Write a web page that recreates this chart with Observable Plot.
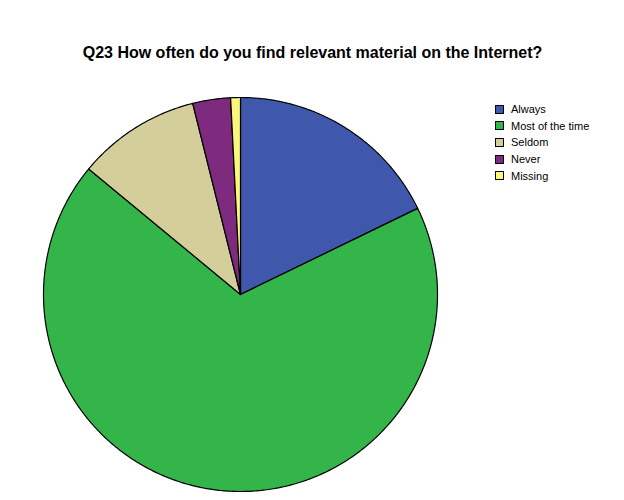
<!DOCTYPE html>
<html>
<head>
<meta charset="utf-8">
<script src="https://cdn.jsdelivr.net/npm/d3@7"></script>
<script src="https://cdn.jsdelivr.net/npm/@observablehq/plot@0.6"></script>
<style>
  body { margin: 0; background: #fff; font-family: "Liberation Sans", Arial, sans-serif; }
  #wrap { position: relative; width: 624px; height: 500px; }
  #legend { position: absolute; left: 495px; top: 101px; font-size: 11px; color: #000; }
  .row { display: flex; align-items: center; height: 16.6px; }
  .sw { width: 7px; height: 7px; border: 1px solid #000; margin-right: 7px; }
</style>
</head>
<body>
<div id="wrap"></div>
<script>
const title = "Q23 How often do you find relevant material on the Internet?";
const categories = ["Always", "Most of the time", "Seldom", "Never", "Missing"];
const percents = [17.8, 68.2, 10.1, 3.1, 0.8];
const colors = ["#3F58AC", "#34B54A", "#D4CE9A", "#7D2A7F", "#FBF77A"];

const pie = d3.pie().sort(null).startAngle(0).endAngle(2 * Math.PI)(percents);
const pts = [];
pie.forEach((s, i) => {
  const cat = categories[i];
  pts.push({cat, x: 0, y: 0});
  const n = Math.max(2, Math.ceil((s.endAngle - s.startAngle) / (Math.PI / 360)));
  for (let k = 0; k <= n; k++) {
    const a = s.startAngle + (s.endAngle - s.startAngle) * k / n;
    pts.push({cat, x: Math.sin(a), y: Math.cos(a)});
  }
  pts.push({cat, x: 0, y: 0});
});

const chart = Plot.plot({
  width: 624,
  height: 500,
  margin: 0,
  x: {domain: [-1, 1], range: [43, 437], axis: null},
  y: {domain: [-1, 1], range: [491, 97], axis: null},
  color: {domain: categories, range: colors},
  style: {fontFamily: "Liberation Sans, Arial, sans-serif", background: "#fff"},
  marks: [
    Plot.line(pts, {x: "x", y: "y", z: "cat", fill: "cat", stroke: "#000", strokeWidth: 1.2, strokeLinejoin: "round"}),
    Plot.text([title], {text: d => d, frameAnchor: "top", dx: 0, dy: 46, fontSize: 16, fontWeight: "bold", fill: "#000"})
  ]
});
document.getElementById("wrap").appendChild(chart);

const legend = document.createElement("div");
legend.id = "legend";
categories.forEach((c, i) => {
  const row = document.createElement("div");
  row.className = "row";
  const sw = document.createElement("div");
  sw.className = "sw";
  sw.style.background = colors[i];
  const t = document.createElement("span");
  t.textContent = c;
  row.appendChild(sw); row.appendChild(t);
  legend.appendChild(row);
});
document.getElementById("wrap").appendChild(legend);
</script>
</body>
</html>
